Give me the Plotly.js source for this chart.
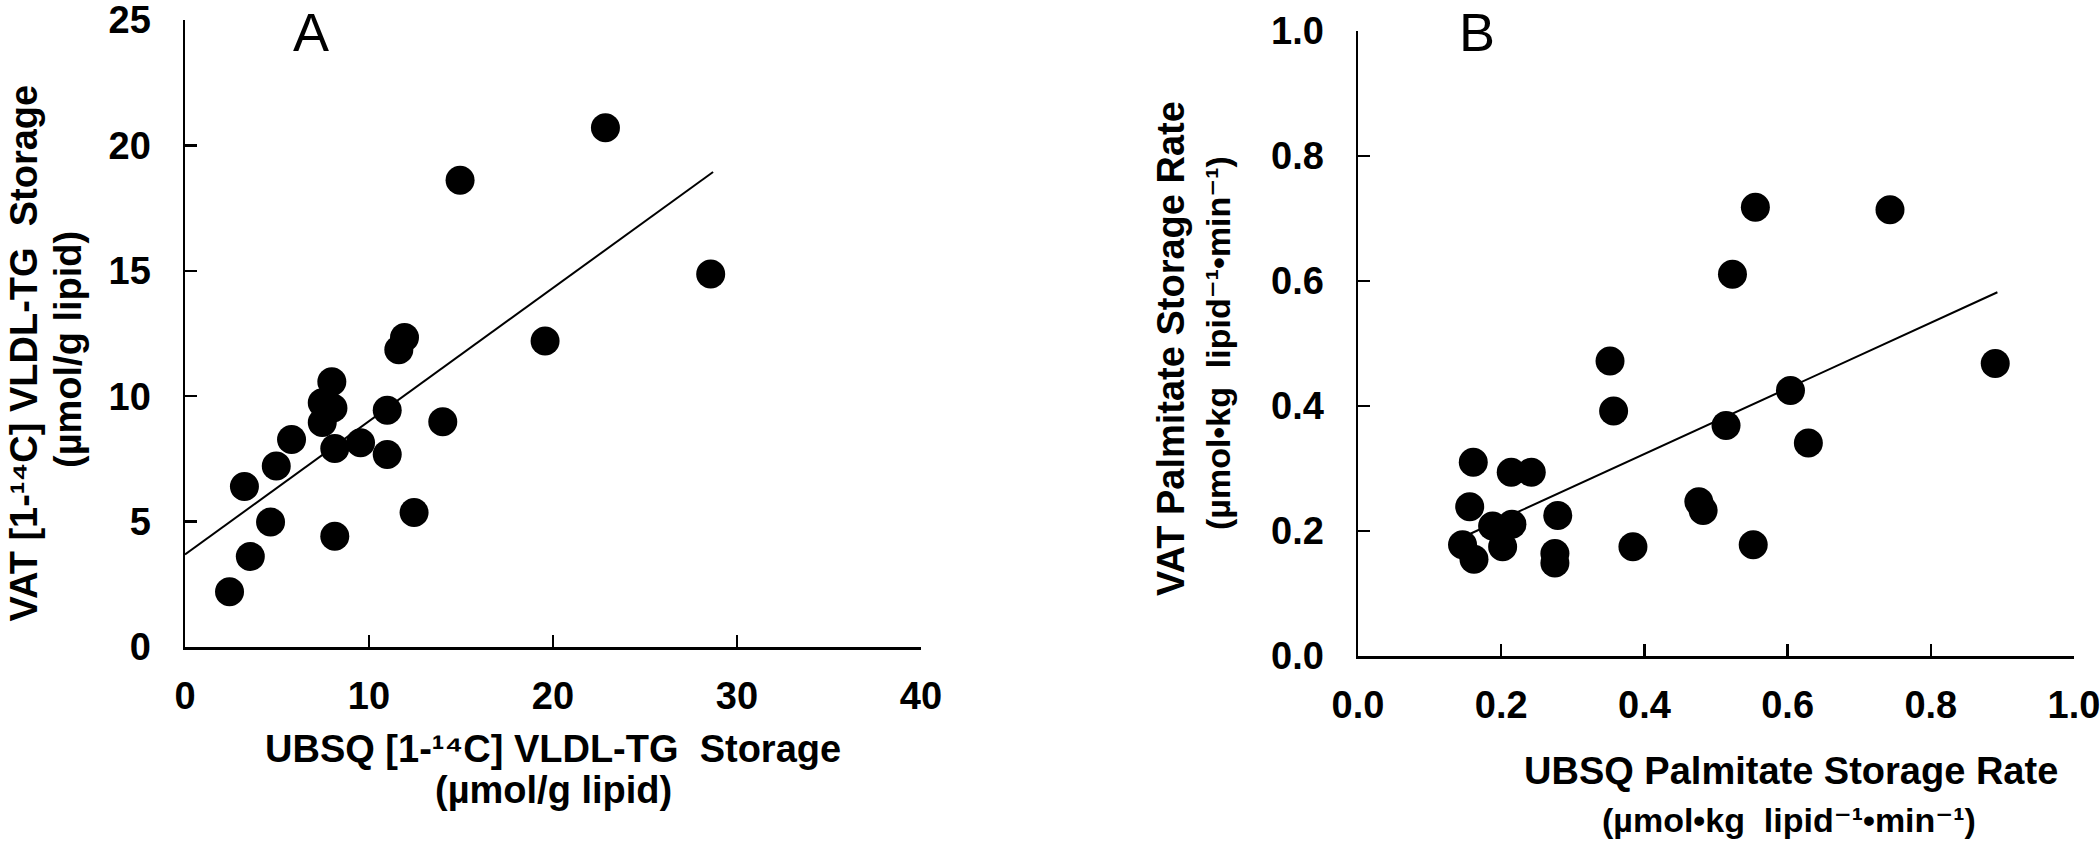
<!DOCTYPE html>
<html>
<head>
<meta charset="utf-8">
<script src="https://cdn.plot.ly/plotly-3.0.1.min.js"></script>
<style>html,body{margin:0;padding:0;background:#fff;}#chart{width:2100px;height:848px;}</style>
</head>
<body>
<div id="chart"></div>
<script>
// Panel A: VLDL-TG storage (µmol/g lipid)
const aUBSQ = [22.85,14.95,28.57,19.57,11.93,11.62,7.98,7.46,8.04,7.46,10.99,14.01,5.79,9.54,8.14,10.99,4.96,3.23,4.65,12.45,8.14,3.55,2.42];
const aVAT  = [20.70,18.61,14.87,12.20,12.34,11.85,10.58,9.74,9.53,8.95,9.44,8.98,8.27,8.14,7.91,7.68,7.22,6.40,4.98,5.36,4.42,3.61,2.20];
const aFitX = [0, 28.7];
const aFitY = [3.69, 18.94];

// Panel B: palmitate storage rate (µmol•kg lipid-1•min-1)
const bUBSQ = [0.555,0.743,0.523,0.890,0.352,0.357,0.604,0.514,0.629,0.161,0.214,0.242,0.156,0.476,0.482,0.279,0.188,0.215,0.146,0.202,0.162,0.275,0.275,0.384,0.552];
const bVAT  = [0.718,0.714,0.611,0.468,0.472,0.392,0.425,0.369,0.341,0.310,0.294,0.294,0.239,0.247,0.233,0.225,0.208,0.211,0.178,0.175,0.155,0.164,0.149,0.175,0.178];
const bFitX = [0.15, 0.893];
const bFitY = [0.192, 0.582];

const aXTicks = [0,10,20,30,40];
const aYTicks = [0,5,10,15,20,25];
const bTicks = [0,0.2,0.4,0.6,0.8,1.0];
const bTickText = ['0.0','0.2','0.4','0.6','0.8','1.0'];

const W = 2100, H = 848;
const px = v => v / W;
const py = v => 1 - v / H;

const FONT = 'Liberation Sans, Arial, Helvetica, DejaVu Sans, sans-serif';
const tickFont = {family: FONT, size: 38, weight: 'bold', color: '#000'};

const markerStyle = {color: '#000', size: 29, line: {width: 0}};
const traces = [
  {x: aUBSQ, y: aVAT, type: 'scatter', mode: 'markers', marker: markerStyle, xaxis: 'x', yaxis: 'y', hoverinfo: 'x+y'},
  {x: aFitX, y: aFitY, type: 'scatter', mode: 'lines', line: {color: '#000', width: 2}, xaxis: 'x', yaxis: 'y', hoverinfo: 'skip'},
  {x: bUBSQ, y: bVAT, type: 'scatter', mode: 'markers', marker: markerStyle, xaxis: 'x2', yaxis: 'y2', hoverinfo: 'x+y'},
  {x: bFitX, y: bFitY, type: 'scatter', mode: 'lines', line: {color: '#000', width: 2}, xaxis: 'x2', yaxis: 'y2', hoverinfo: 'skip'}
];

function axisBase() {
  return {
    showgrid: false, zeroline: false, showline: true, linecolor: '#000', linewidth: 2.5,
    ticks: 'inside', ticklen: 12, tickwidth: 2.5, tickcolor: '#000',
    tickfont: tickFont, tickmode: 'array', fixedrange: true, ticklabeloverflow: 'allow'
  };
}

const layout = {
  width: W, height: H,
  margin: {l: 0, r: 0, t: 0, b: 0, pad: 0},
  paper_bgcolor: '#fff', plot_bgcolor: '#fff',
  showlegend: false,
  font: {family: FONT, color: '#000'},
  xaxis: Object.assign(axisBase(), {domain: [px(185), px(921)], range: [0, 40], tickvals: aXTicks, anchor: 'y', ticklabelstandoff: 14}),
  yaxis: Object.assign(axisBase(), {domain: [py(647), py(20)], range: [0, 25], tickvals: aYTicks, anchor: 'x', ticklabelstandoff: 24}),
  xaxis2: Object.assign(axisBase(), {domain: [px(1358), px(2074)], range: [0, 1], tickvals: bTicks, ticktext: bTickText, anchor: 'y2', ticklabelstandoff: 14}),
  yaxis2: Object.assign(axisBase(), {domain: [py(656), py(31)], range: [0, 1], tickvals: bTicks, ticktext: bTickText, anchor: 'x2', ticklabelstandoff: 24}),
  annotations: [
    {text: 'A', x: px(311), y: 1, ya: 'top', size: 54},
    {text: 'B', x: px(1477), y: 1, ya: 'top', size: 54},
    {text: 'UBSQ [1-¹⁴C] VLDL-TG  Storage', x: px(553), y: py(749), size: 38, bold: true},
    {text: '(µmol/g lipid)', x: px(553), y: py(790), size: 38, bold: true},
    {text: 'VAT [1-¹⁴C] VLDL-TG  Storage', x: px(0.5), xa: 'left', y: py(353), size: 38, bold: true, rot: -90},
    {text: '(µmol/g lipid)', x: px(68), y: py(350), size: 38, bold: true, rot: -90},
    {text: 'VAT Palmitate Storage Rate', x: px(1171), y: py(349), size: 38, bold: true, rot: -90},
    {text: '(µmol•kg  lipid⁻¹•min⁻¹)', x: px(1218), y: py(343), size: 34, bold: true, rot: -90},
    {text: 'UBSQ Palmitate Storage Rate', x: px(1791), y: py(771), size: 38, bold: true},
    {text: '(µmol•kg  lipid⁻¹•min⁻¹)', x: px(1789), y: py(820), size: 34, bold: true}
  ].map(a => ({
    text: a.text, x: a.x, y: a.y, xref: 'paper', yref: 'paper',
    xanchor: a.xa || 'center', yanchor: a.ya || 'middle', showarrow: false,
    textangle: a.rot || 0,
    font: {family: FONT, size: a.size, color: '#000', weight: a.bold ? 'bold' : 'normal'}
  }))
};

Plotly.newPlot('chart', traces, layout, {displayModeBar: false, staticPlot: true});
</script>
</body>
</html>
